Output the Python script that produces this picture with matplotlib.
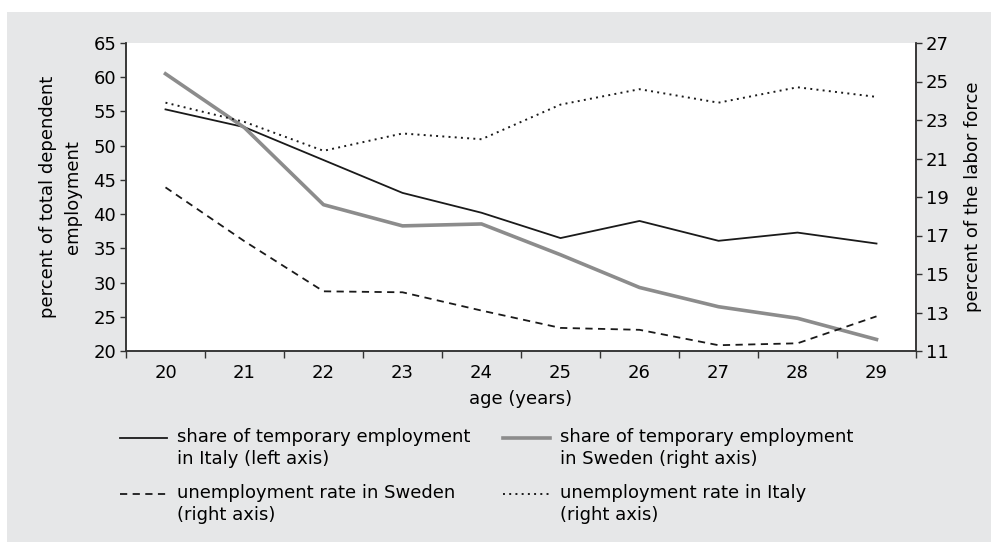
import matplotlib
matplotlib.use("Agg")
import matplotlib.pyplot as plt
from matplotlib.patches import Rectangle
from matplotlib.lines import Line2D

plt.rcParams['font.family'] = ['DejaVu Sans']

ages = [20, 21, 22, 23, 24, 25, 26, 27, 28, 29]
temp_italy = [55.3, 52.7, 47.9, 43.1, 40.2, 36.5, 39.0, 36.1, 37.3, 35.7]      # left axis
temp_sweden = [25.4, 22.6, 18.6, 17.5, 17.6, 16.0, 14.3, 13.3, 12.7, 11.6]     # right axis
unemp_sweden = [19.5, 16.7, 14.1, 14.05, 13.1, 12.2, 12.1, 11.3, 11.4, 12.8]   # right axis
unemp_italy = [23.9, 22.9, 21.4, 22.3, 22.0, 23.8, 24.6, 23.9, 24.7, 24.2]     # right axis

left_ticks = [20, 25, 30, 35, 40, 45, 50, 55, 60, 65]
right_ticks = [11, 13, 15, 17, 19, 21, 23, 25, 27]

FS = 13
W, H = 999, 543
fig = plt.figure(figsize=(W / 100, H / 100), dpi=100)
fig.patch.set_facecolor('white')
bg = Rectangle((7 / W, 1 - 542 / H), (991 - 7) / W, (542 - 12) / H,
               transform=fig.transFigure, facecolor='#e6e7e8',
               edgecolor='none', zorder=-10)
fig.add_artist(bg)

ax = fig.add_axes([126 / W, 1 - 351 / H, (916 - 126) / W, (351 - 43) / H])
ax.set_facecolor('white')
ax2 = ax.twinx()

x = list(range(len(ages)))
spine_c = '#333333'
styles = {
    'it_temp': dict(color='#1a1a1a', lw=1.3, ls='-'),
    'se_temp': dict(color='#8c8c8c', lw=2.6, ls='-'),
    'se_unemp': dict(color='#1a1a1a', lw=1.3, ls=(0, (4, 3))),
    'it_unemp': dict(color='#1a1a1a', lw=1.4, ls=(0, (1, 2.2))),
}
ax.plot(x, temp_italy, zorder=3, **styles['it_temp'])
ax2.plot(x, temp_sweden, zorder=2, **styles['se_temp'])
ax2.plot(x, unemp_sweden, zorder=3, **styles['se_unemp'])
ax2.plot(x, unemp_italy, zorder=3, **styles['it_unemp'])

ax.set_xlim(-0.5, len(ages) - 0.5)
ax.set_ylim(20, 65)
ax2.set_ylim(11, 27)
ax.set_yticks(left_ticks)
ax2.set_yticks(right_ticks)
ax.set_xticks(x)
ax.set_xticklabels([str(a) for a in ages])
ax.set_xticks([i - 0.5 for i in range(len(ages) + 1)], minor=True)
ax.tick_params(axis='x', which='major', length=0, pad=9, labelsize=FS)
ax.tick_params(axis='x', which='minor', length=5, width=1, color=spine_c, direction='out')
ax.tick_params(axis='y', length=4, width=1, color=spine_c, pad=3, labelsize=FS)
ax2.tick_params(axis='y', length=4, width=1, color=spine_c, pad=3, labelsize=FS)

for a in (ax, ax2):
    a.spines['top'].set_visible(False)
    for s in ('left', 'right', 'bottom'):
        a.spines[s].set_color(spine_c)
        a.spines[s].set_linewidth(1.1)

ax.set_xlabel('age (years)', fontsize=FS, labelpad=6)
ax.set_ylabel('percent of total dependent\nemployment', fontsize=FS, labelpad=8,
              linespacing=1.5)
ax2.set_ylabel('percent of the labor force', fontsize=FS, labelpad=11)

# legend (handles aligned with the first line of each label)
legend_items = [
    ('it_temp', 'share of temporary employment\nin Italy (left axis)', 120, 438),
    ('se_temp', 'share of temporary employment\nin Sweden (right axis)', 503, 438),
    ('se_unemp', 'unemployment rate in Sweden\n(right axis)', 120, 494),
    ('it_unemp', 'unemployment rate in Italy\n(right axis)', 503, 494),
]
for key, text, px, py in legend_items:
    fy = 1 - py / H
    fig.add_artist(Line2D([px / W, (px + 47) / W], [fy, fy],
                          transform=fig.transFigure, **styles[key]))
    fig.text((px + 57) / W, 1 - (py - 10) / H, text, fontsize=FS,
             va='top', ha='left', linespacing=1.32)

fig.savefig('out.png', dpi=100, facecolor=fig.get_facecolor())
